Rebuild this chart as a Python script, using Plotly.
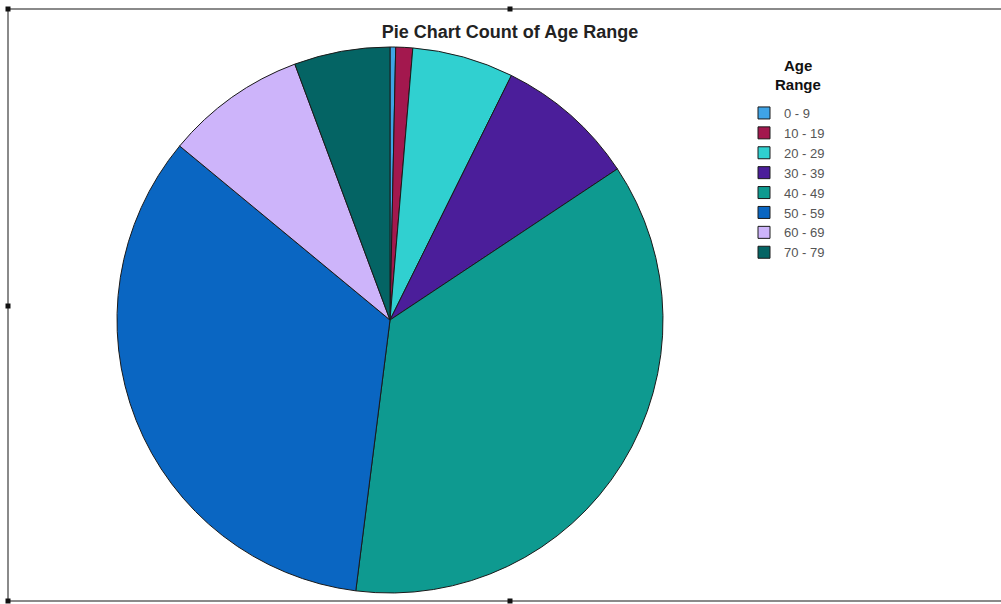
import plotly.graph_objects as go

categories = ["0 - 9", "10 - 19", "20 - 29", "30 - 39", "40 - 49", "50 - 59", "60 - 69", "70 - 79"]
counts = [1, 3, 18, 25, 109, 102, 25, 17]
colors = ["#3FA4E6", "#A3184E", "#30D0D0", "#4B1E9A", "#0E9A90", "#0A66C2", "#CDB4FA", "#046464"]
legend_title_lines = ["Age", "Range"]
chart_title = "Pie Chart Count of Age Range"

W, H = 1001, 604

def px(x):
    return x / W

def py(y):
    return 1 - y / H

fig = go.Figure(go.Pie(
    labels=categories,
    values=counts,
    sort=False,
    direction="clockwise",
    rotation=0,
    textinfo="none",
    marker=dict(colors=colors, line=dict(color="#1a1a1a", width=1)),
    domain=dict(x=[px(117), px(663)], y=[py(593), py(47)]),
))

shapes = []
line_col = "#8a8a8a"
shapes.append(dict(type="line", xref="paper", yref="paper", x0=px(8), x1=1, y0=py(9), y1=py(9), line=dict(color=line_col, width=2)))
shapes.append(dict(type="line", xref="paper", yref="paper", x0=px(8), x1=1, y0=py(601), y1=py(601), line=dict(color=line_col, width=2)))
shapes.append(dict(type="line", xref="paper", yref="paper", x0=px(8), x1=px(8), y0=py(9), y1=py(601), line=dict(color=line_col, width=2)))
for hx, hy in [(8, 9), (8, 306), (8, 601), (510, 9), (510, 601)]:
    shapes.append(dict(type="rect", xref="paper", yref="paper",
                       x0=px(hx - 2.5), x1=px(hx + 2.5), y0=py(hy + 2.5), y1=py(hy - 2.5),
                       fillcolor="#111", line=dict(width=0)))

annotations = []
for i, t in enumerate(legend_title_lines):
    annotations.append(dict(text="<b>%s</b>" % t, xref="paper", yref="paper",
                            x=px(798), y=py(65 + 19 * i), xanchor="center", yanchor="middle",
                            showarrow=False, font=dict(size=15, color="#111")))

fig.update_layout(
    width=W, height=H,
    margin=dict(l=0, r=0, t=0, b=0),
    paper_bgcolor="white",
    plot_bgcolor="white",
    font=dict(family="Arial, Liberation Sans, sans-serif", color="#333"),
    title=dict(text="<b>%s</b>" % chart_title, x=px(510), y=py(32),
               xanchor="center", yanchor="middle",
               font=dict(size=18, color="#222", family="Arial, Liberation Sans, sans-serif")),
    legend=dict(
        x=px(744), y=py(98), xanchor="left", yanchor="top",
        font=dict(size=13, color="#555"),
        itemwidth=30,
        bgcolor="rgba(0,0,0,0)",
    ),
    annotations=annotations,
    shapes=shapes,
)

fig.write_html("out.html")
